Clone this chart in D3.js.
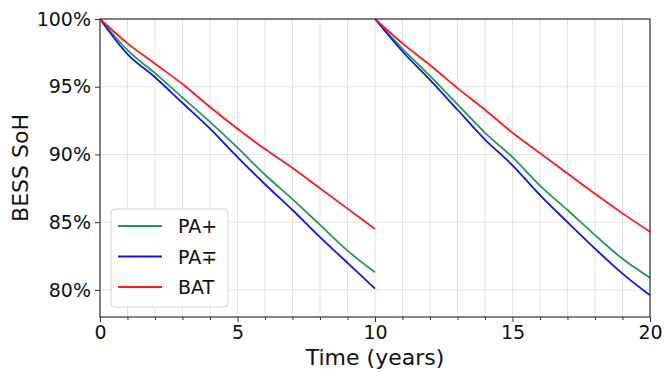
<!DOCTYPE html>
<html>
<head>
<meta charset="utf-8">
<script src="https://cdn.jsdelivr.net/npm/d3@7"></script>
<style>
  html, body { margin: 0; padding: 0; background: #fff; }
  svg { display: block; font-family: "DejaVu Sans", sans-serif; }
</style>
</head>
<body>
<svg id="chart" width="664" height="372"></svg>
<script>
// Battery state of health over two 10-year battery lifetimes (replacement at year 10)
const years1 = [0, 1, 2, 3, 4, 5, 6, 7, 8, 9, 10];
const years2 = [10, 11, 12, 13, 14, 15, 16, 17, 18, 19, 20];

const paPlus1  = [100, 97.7, 96.0, 94.2, 92.4, 90.5, 88.5, 86.7, 84.8, 82.9, 81.3];
const paMinus1 = [100, 97.4, 95.7, 93.8, 91.9, 89.8, 87.8, 85.9, 83.9, 82.0, 80.1];
const bat1     = [100, 98.2, 96.7, 95.2, 93.5, 91.9, 90.4, 89.0, 87.5, 86.0, 84.5];

const paPlus2  = [100, 97.8, 95.8, 93.7, 91.6, 89.8, 87.7, 85.9, 84.05, 82.3, 80.9];
const paMinus2 = [100, 97.6, 95.5, 93.3, 91.1, 89.2, 87.0, 85.0, 83.05, 81.2, 79.6];
const bat2     = [100, 98.2, 96.6, 94.9, 93.3, 91.6, 90.1, 88.6, 87.1, 85.65, 84.3];

const seriesNames = ["PA+", "PA\u2213", "BAT"];
const seriesColors = ["#1f9a5e", "#1515e6", "#ff1a1a"];

const xTicks = [0, 5, 10, 15, 20];
const xMinorTicks = d3.range(0, 21, 1);
const yTicks = [80, 85, 90, 95, 100];

const svg = d3.select("#chart");
const margin = { left: 100, right: 14, top: 19, bottom: 55 };
const W = 664, H = 372;
const x = d3.scaleLinear().domain([0, 20]).range([margin.left, W - margin.right]);
const y = d3.scaleLinear().domain([78, 100]).range([H - margin.bottom, margin.top]);

// grid
const grid = svg.append("g");
grid.selectAll("line.vg").data(xMinorTicks).join("line")
  .attr("x1", d => x(d)).attr("x2", d => x(d))
  .attr("y1", y.range()[0]).attr("y2", y.range()[1])
  .attr("stroke", "#e3e3e3").attr("stroke-width", 1);
grid.selectAll("line.hg").data(yTicks).join("line")
  .attr("x1", x.range()[0]).attr("x2", x.range()[1])
  .attr("y1", d => y(d)).attr("y2", d => y(d))
  .attr("stroke", "#e3e3e3").attr("stroke-width", 1);

// lines
const line = d3.line().curve(d3.curveMonotoneX).x(d => x(d[0])).y(d => y(d[1]));
const segments = [
  [years1, [paPlus1, paMinus1, bat1]],
  [years2, [paPlus2, paMinus2, bat2]]
];
const plot = svg.append("g");
segments.forEach(([yrs, vals]) => {
  vals.forEach((v, i) => {
    plot.append("path")
      .datum(yrs.map((t, k) => [t, v[k]]))
      .attr("d", line)
      .attr("fill", "none")
      .attr("stroke", seriesColors[i])
      .attr("stroke-width", 1.8)
      .attr("stroke-linejoin", "round");
  });
});

// frame
svg.append("rect")
  .attr("x", x.range()[0]).attr("y", y.range()[1])
  .attr("width", x.range()[1] - x.range()[0])
  .attr("height", y.range()[0] - y.range()[1])
  .attr("fill", "none").attr("stroke", "#333").attr("stroke-width", 1.2);

// axes
svg.append("g").attr("transform", `translate(0,${y.range()[0]})`)
  .call(d3.axisBottom(x).tickValues(xTicks).tickFormat(d3.format("d")).tickSize(5).tickPadding(4));
svg.append("g").attr("transform", `translate(0,${y.range()[0]})`)
  .call(d3.axisBottom(x).tickValues(xMinorTicks.filter(d => d % 5 !== 0)).tickFormat("").tickSize(3));
svg.append("g").attr("transform", `translate(${x.range()[0]},0)`)
  .call(d3.axisLeft(y).tickValues(yTicks).tickFormat(d => d + "%").tickSize(5).tickPadding(4));

svg.selectAll(".domain").remove();
svg.selectAll(".tick line").attr("stroke", "#333");
svg.selectAll(".tick text").attr("font-size", 19).attr("fill", "#111")
  .attr("font-family", "DejaVu Sans, sans-serif");

// axis labels
svg.append("text")
  .attr("x", (x.range()[0] + x.range()[1]) / 2).attr("y", 365)
  .attr("text-anchor", "middle").attr("font-size", 22).attr("fill", "#111")
  .text("Time (years)");
svg.append("text")
  .attr("transform", `translate(28,${(y.range()[0] + y.range()[1]) / 2}) rotate(-90)`)
  .attr("text-anchor", "middle").attr("font-size", 22).attr("fill", "#111")
  .text("BESS SoH");

// legend
const lg = svg.append("g").attr("transform", "translate(111,209)");
lg.append("rect").attr("width", 117).attr("height", 98).attr("rx", 4)
  .attr("fill", "white").attr("fill-opacity", 0.85)
  .attr("stroke", "#d6d6d6").attr("stroke-width", 1);
seriesNames.forEach((name, i) => {
  const cy = 17 + i * 30.5;
  lg.append("line").attr("x1", 7).attr("x2", 51).attr("y1", cy).attr("y2", cy)
    .attr("stroke", seriesColors[i]).attr("stroke-width", 1.8);
  lg.append("text").attr("x", 67).attr("y", cy + 7)
    .attr("font-size", 19).attr("fill", "#111").text(name);
});
</script>
</body>
</html>
